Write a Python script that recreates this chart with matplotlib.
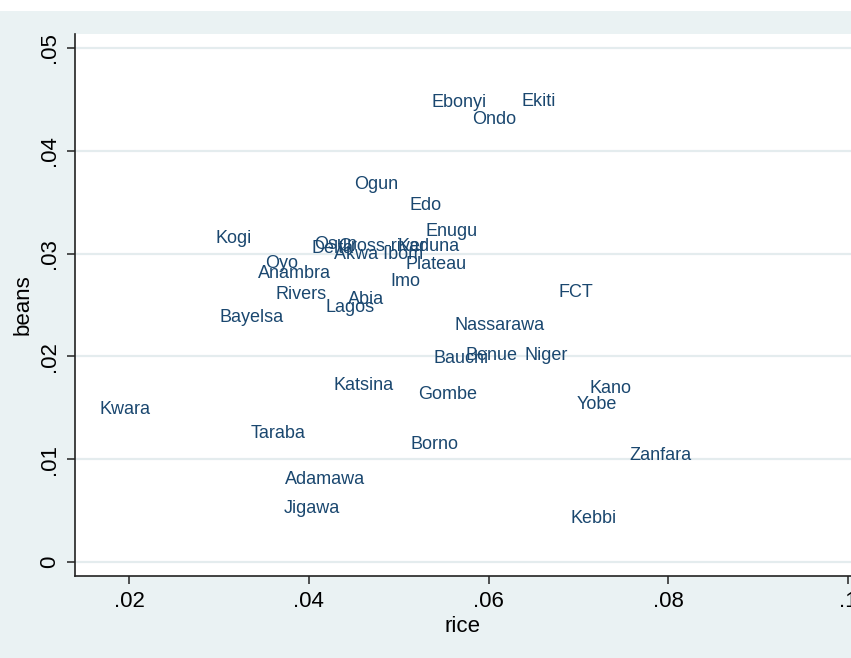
import matplotlib
matplotlib.use("Agg")
import matplotlib.pyplot as plt
from matplotlib.patches import Rectangle

plt.rcParams['font.family'] = ['Liberation Sans', 'DejaVu Sans']

states = ["Ebonyi", "Ekiti", "Ondo", "Ogun", "Edo", "Enugu", "Kaduna", "Cross-river",
          "Akwa Ibom", "Plateau", "Imo", "Osun", "Delta", "Kogi", "Oyo", "Anambra",
          "Rivers", "Lagos", "Abia", "Bayelsa", "FCT", "Nassarawa", "Bauchi", "Benue",
          "Niger", "Katsina", "Gombe", "Kano", "Yobe", "Kwara", "Taraba", "Borno",
          "Zanfara", "Adamawa", "Jigawa", "Kebbi"]
rice = [0.0532, 0.0632, 0.0577, 0.0446, 0.0508, 0.0525, 0.0494, 0.0428,
        0.0423, 0.0503, 0.0486, 0.0401, 0.0398, 0.0292, 0.0347, 0.0339,
        0.0358, 0.0414, 0.0439, 0.0296, 0.0673, 0.0557, 0.0534, 0.0570,
        0.0635, 0.0423, 0.0517, 0.0708, 0.0693, 0.0162, 0.0331, 0.0509,
        0.0752, 0.0369, 0.0367, 0.0687]
beans = [0.04489, 0.04499, 0.04323, 0.03690, 0.03486, 0.03233, 0.03087, 0.03087,
         0.03009, 0.02911, 0.02746, 0.03106, 0.03067, 0.03165, 0.02921, 0.02824,
         0.02619, 0.02493, 0.02571, 0.02395, 0.02639, 0.02317, 0.01996, 0.02025,
         0.02025, 0.01733, 0.01646, 0.01704, 0.01548, 0.01500, 0.01266, 0.01159,
         0.01052, 0.00818, 0.00536, 0.00448]
xticks = [0.02, 0.04, 0.06, 0.08, 0.1]
xticklabels = [".02", ".04", ".06", ".08", ".1"]
yticks = [0, 0.01, 0.02, 0.03, 0.04, 0.05]
yticklabels = ["0", ".01", ".02", ".03", ".04", ".05"]

W, H = 851, 658
bg = "#EAF2F3"
fig = plt.figure(figsize=(W / 100, H / 100), dpi=100, facecolor=bg)
# thin white strip at very top
fig.patches.append(Rectangle((0, 1 - 11 / H), 1, 11 / H, transform=fig.transFigure,
                             facecolor="white", edgecolor="none", zorder=0))

left, right = 75 / W, 1.0
bottom, top = 1 - 576 / H, 1 - 34 / H
ax = fig.add_axes([left, bottom, right - left, top - bottom], facecolor="white")

# axis limits derived from pixel positions of ticks
px_per_x = (848 - 129) / 0.08
x0 = 0.02 - (129 - 75) / px_per_x
x1 = 0.02 + (851 - 129) / px_per_x
px_per_y = (562 - 48) / 0.05
y0 = 0 - (576 - 562) / px_per_y
y1 = 0.05 + (48 - 34) / px_per_y
ax.set_xlim(x0, x1)
ax.set_ylim(y0, y1)

ax.scatter(rice, beans, s=0, alpha=0)
for name, xv, yv in zip(states, rice, beans):
    ax.annotate(name, (xv, yv), xytext=(3, -1.5), textcoords="offset points",
                ha="left", va="center", fontsize=13, color="#1a476f")

ax.set_yticks(yticks)
ax.set_yticklabels(yticklabels, rotation=90, va="center", fontsize=16)
ax.set_xticks(xticks)
ax.set_xticklabels(xticklabels, fontsize=16)
ax.grid(axis="y", color="#E4ECEE", linewidth=1.6)
ax.set_axisbelow(True)
for s in ["top", "right"]:
    ax.spines[s].set_visible(False)
for s in ["left", "bottom"]:
    ax.spines[s].set_color("#222222")
    ax.spines[s].set_linewidth(1.2)
ax.tick_params(direction="out", length=6, width=1.1, color="#222222", pad=5)

ax.set_xlabel("rice", fontsize=16, labelpad=3)
ax.set_ylabel("beans", fontsize=16, labelpad=4)

fig.savefig("out.png", dpi=100, facecolor=bg)
